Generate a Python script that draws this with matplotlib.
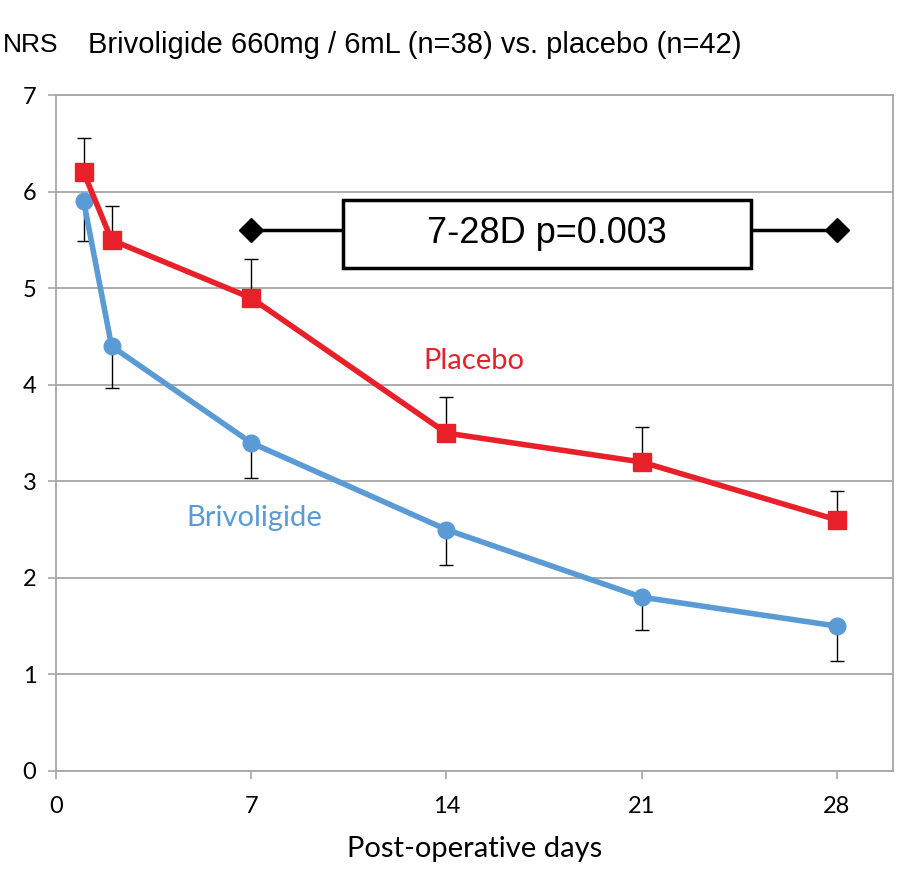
import matplotlib
matplotlib.use("Agg")
import matplotlib.pyplot as plt
from matplotlib.patches import Rectangle

days = [1, 2, 7, 14, 21, 28]
placebo = [6.2, 5.5, 4.9, 3.5, 3.2, 2.6]
placebo_err = [0.36, 0.35, 0.4, 0.37, 0.36, 0.3]
brivo = [5.9, 4.4, 3.4, 2.5, 1.8, 1.5]
brivo_err = [0.41, 0.43, 0.37, 0.37, 0.34, 0.36]
xticks = [0, 7, 14, 21, 28]
yticks = [0, 1, 2, 3, 4, 5, 6, 7]
bracket = [7, 28]
bracket_y = 5.6
pval_text = "7-28D p=0.003"

RED = "#e8202a"
BLUE = "#5b9bd5"
GRID = "#a6a6a6"

fig = plt.figure(figsize=(9, 8.74), dpi=100)
ax = fig.add_axes([0.062, 0.118, 0.930, 0.773])
ax.set_xlim(0, 30)
ax.set_ylim(0, 7)

for y in yticks:
    ax.axhline(y, color=GRID, lw=1.3, zorder=0)

# error bars
ax.errorbar(days, placebo, yerr=[[0]*len(days), placebo_err], fmt='none',
            ecolor='black', elinewidth=1.0, capsize=5, capthick=1.0, zorder=2)
ax.errorbar(days, brivo, yerr=[brivo_err, [0]*len(days)], fmt='none',
            ecolor='black', elinewidth=1.0, capsize=5, capthick=1.0, zorder=2)

ax.plot(days, brivo, color=BLUE, lw=4, marker='o', ms=12, zorder=3)
ax.plot(days, placebo, color=RED, lw=4, marker='s', ms=13, zorder=4)

# bracket
ax.plot(bracket, [bracket_y]*2, color='black', lw=2.5, marker='D', ms=12, zorder=5)
ax.add_patch(Rectangle((10.3, 5.21), 14.6, 0.71, facecolor='white',
                       edgecolor='black', lw=2.5, zorder=6))
ax.text(17.6, 5.565, pval_text, ha='center', va='center', fontsize=26,
        family='Liberation Sans', zorder=7)

ax.text(15.0, 4.25, "Placebo", color=RED, fontsize=21, family='Lato',
        ha='center', va='center')
ax.text(7.1, 2.62, "Brivoligide", color=BLUE, fontsize=21, family='Lato',
        ha='center', va='center')

for s in ax.spines.values():
    s.set_color(GRID)
    s.set_linewidth(1.3)

ax.set_xticks(xticks)
ax.set_yticks(yticks)
ax.tick_params(axis='both', colors=GRID, length=6, width=1.2, labelcolor='black',
               labelsize=17)
for lab in ax.get_xticklabels() + ax.get_yticklabels():
    lab.set_family('Lato')
ax.tick_params(axis='x', pad=12)
ax.tick_params(axis='y', pad=8)
ax.set_xlabel("Post-operative days", fontsize=21, family='Lato', labelpad=14)

fig.text(0.003, 0.948, "NRS", fontsize=19, family='Liberation Sans', va='center')
fig.text(0.098, 0.948, "Brivoligide 660mg / 6mL (n=38) vs. placebo (n=42)",
         fontsize=21, family='Liberation Sans', va='center')

fig.savefig("out.png", dpi=100)
